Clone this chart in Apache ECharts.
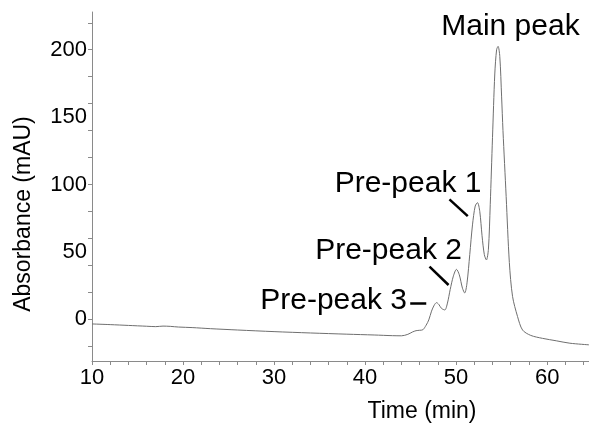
<!DOCTYPE html>
<html>
  <head>
    <meta charset="utf-8" />
    <title>Chromatogram</title>
    <script src="https://cdn.jsdelivr.net/npm/echarts@6.0.0/dist/echarts.min.js"></script>
    <style>
      html, body { margin: 0; padding: 0; background: #fff; }
    </style>
  </head>
  <body>
    <div id="main" style="width: 589px; height: 428px"></div>
    <script type="text/javascript">
      // chromatogram trace (time in min, absorbance in mAU)
      var times = [10, 12, 14, 16, 17, 17.8, 18.6, 19.5, 21, 23, 26, 30, 34, 38, 41, 43, 44,
        44.7, 45.2, 45.6, 46.0, 46.35, 46.7, 47.0, 47.3, 47.6, 47.85, 48.1, 48.4, 48.76,
        49.05, 49.35, 49.7, 50.04, 50.35, 50.7, 50.95, 51.2, 51.5, 51.8, 52.1, 52.35, 52.6,
        52.85, 53.1, 53.33, 53.55, 53.75, 54.0, 54.25, 54.45, 54.61, 54.8, 55.0, 55.15, 55.5,
        55.85, 56.2, 56.75, 57.3, 58.2, 59.5, 61, 62.5, 64.6];
      var absorbance = [-3.5, -4, -4.6, -5.2, -5.5, -5.1, -5.3, -5.8, -6.2, -7, -8, -9.2,
        -10.2, -11.1, -11.7, -12.2, -12.3, -11.2, -9.5, -8.5, -8.2, -7.8, -4.5, -0.5, 6, 10.5,
        12.3, 11, 8, 6.9, 12, 22, 32, 37, 33, 23, 19.5, 27, 48, 70, 84, 86.5, 80, 62, 48, 44,
        52, 85, 135, 182, 200, 202.5, 195, 165, 140, 91, 42, 17, 2, -8, -12, -14.2, -16,
        -17.8, -19];

      // axis ticks and labels
      var xLabels = [10, 20, 30, 40, 50, 60];
      var xTicks = [10, 12, 14, 16, 18, 20, 22, 24, 26, 28, 30, 32, 34, 36, 38, 40, 42, 44,
        46, 48, 50, 52, 54, 56, 58, 60, 62, 64];
      var yLabels = [0, 50, 100, 150, 200];
      var yTicks = [-20, 0, 20, 40, 60, 80, 100, 120, 140, 160, 180, 200, 220];

      // peak annotations (label centre in data units) and their leader lines
      var annotationNames = ["Main peak", "Pre-peak 1", "Pre-peak 2", "Pre-peak 3"];
      var annotationTimes = [55.97, 44.72, 42.58, 36.54];
      var annotationValues = [217.3, 100.2, 50.6, 13.6];
      var leaderLines = [
        [49.27, 88.9, 51.28, 76.5],
        [47.08, 39.0, 49.17, 25.4],
        [44.96, 11.9, 46.72, 11.9]
      ];

      var trace = [];
      for (var i = 0; i < times.length; i++) {
        trace.push([times[i], absorbance[i]]);
      }
      var notes = [];
      for (var j = 0; j < annotationNames.length; j++) {
        notes.push({ name: annotationNames[j], value: [annotationTimes[j], annotationValues[j]] });
      }
      var leaders = leaderLines.map(function (l) {
        return [{ coord: [l[0], l[1]] }, { coord: [l[2], l[3]] }];
      });

      var font = "Liberation Sans, Arial, Helvetica, sans-serif";
      var axisGrey = "#8a8a8a";

      var myChart = echarts.init(document.getElementById("main"));
      var option = {
        animation: false,
        textStyle: { fontFamily: font },
        grid: { left: 92, right: 0, top: 12, bottom: 67 },
        xAxis: {
          type: "value",
          min: 10,
          max: 64.6,
          name: "Time (min)",
          nameLocation: "middle",
          nameGap: 39,
          nameTextStyle: { fontSize: 23, color: "#000", fontFamily: font, padding: [0, 0, 0, 163] },
          axisLine: { onZero: false, lineStyle: { color: axisGrey, width: 1 } },
          axisTick: { show: true, length: 4, customValues: xTicks, lineStyle: { color: axisGrey } },
          axisLabel: { customValues: xLabels, fontSize: 22, color: "#000", margin: 6, fontFamily: font },
          splitLine: { show: false }
        },
        yAxis: {
          type: "value",
          min: -31,
          max: 228,
          name: "Absorbance (mAU)",
          nameLocation: "middle",
          nameRotate: 90,
          nameGap: 57,
          nameTextStyle: { fontSize: 23, color: "#000", fontFamily: font, padding: [0, 55, 0, 0] },
          axisLine: { show: true, onZero: false, lineStyle: { color: axisGrey, width: 1 } },
          axisTick: { show: true, length: 4, customValues: yTicks, lineStyle: { color: axisGrey } },
          axisLabel: { customValues: yLabels, fontSize: 22, color: "#000", margin: 5, fontFamily: font },
          splitLine: { show: false }
        },
        series: [
          {
            name: "Absorbance",
            type: "line",
            data: trace,
            smooth: 0.3,
            showSymbol: false,
            symbol: "none",
            lineStyle: { color: "#6f6f6f", width: 1 }
          },
          {
            name: "Annotations",
            type: "scatter",
            data: notes,
            symbolSize: 0,
            silent: true,
            clip: false,
            itemStyle: { opacity: 1 },
            label: {
              show: true,
              position: "inside",
              formatter: "{b}",
              fontSize: 30,
              color: "#000",
              opacity: 1,
              textBorderWidth: 0,
              fontFamily: font
            },
            markLine: {
              silent: true,
              symbol: ["none", "none"],
              label: { show: false },
              lineStyle: { color: "#000", width: 2.5, type: "solid", opacity: 1 },
              data: leaders
            }
          }
        ]
      };
      myChart.setOption(option);
    </script>
  </body>
</html>
